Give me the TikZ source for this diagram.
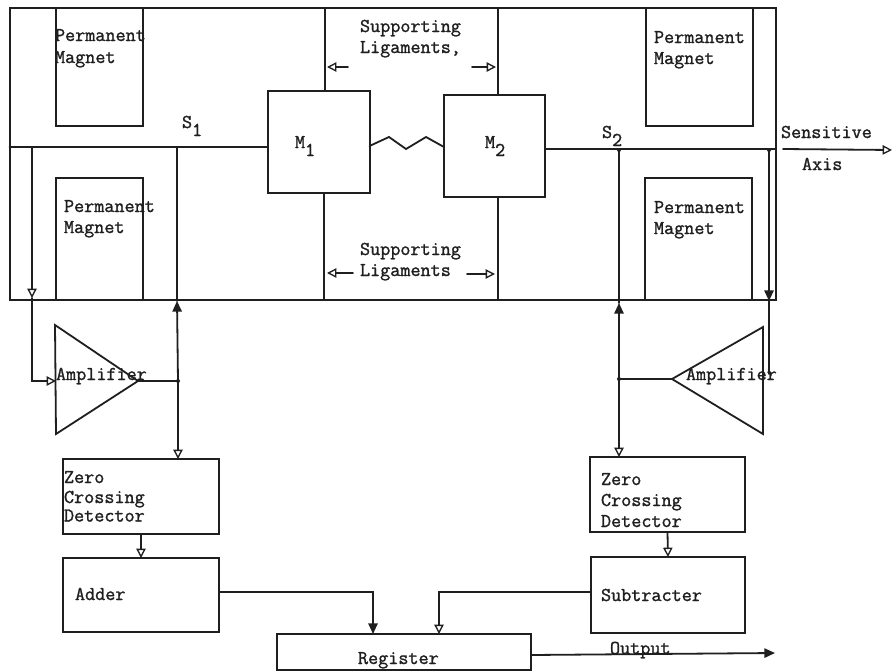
\documentclass[tikz,border=0pt]{standalone}
\usepackage{fontspec}
\setmonofont{Latin Modern Mono}[FakeBold=1.3]
\usetikzlibrary{arrows.meta}
\tikzset{
  wire/.style={line width=1.35pt,line cap=round,line join=miter,black!88},
  blk/.style={draw=black!88,line width=1.5pt,inner sep=0pt,outer sep=0pt,rectangle},
  lbl/.style={inner sep=0pt,outer sep=0pt,anchor=base west,font=\fontsize{14.7}{16}\selectfont\ttfamily,text=black!88},
  opn/.style={-{Triangle[open,length=7pt,width=7pt,line width=1pt]}},
  sld/.style={-{Triangle[length=8pt,width=7pt]}},
}
\newcommand{\blkbox}[5]{%
  \pgfmathsetmacro\blkw{(#4-#2)*0.75}\pgfmathsetmacro\blkh{(#5-#3)*0.75}%
  \node[blk,minimum width=\blkw pt,minimum height=\blkh pt] (#1) at ({(#2+#4)/2},{(#3+#5)/2}) {};}
\newcommand{\dropsub}[1]{\raisebox{-6pt}{#1}}
\begin{document}
\begin{tikzpicture}[x=0.75pt,y=-0.75pt]
\useasboundingbox (0,0) rectangle (892,671);
\fill[white] (0,0) rectangle (892,671);
% frame and blocks
\blkbox{frame}{9.5}{8}{776}{300}
\blkbox{pmtl}{56}{8}{143}{126}
\blkbox{pmbl}{56}{178}{143}{300}
\blkbox{pmtr}{646}{8}{753}{126}
\blkbox{pmbr}{645}{178}{752}{300}
\blkbox{ma}{268}{91}{369.5}{193}
\blkbox{mb}{444}{95}{545}{197}
\blkbox{zcl}{63}{459}{219}{534}
\blkbox{addb}{63}{558}{219}{632}
\blkbox{zcr}{590}{457}{745}{532}
\blkbox{subb}{591}{557}{745}{633}
\blkbox{reg}{277}{634}{531}{670}
% named points
\coordinate (fl) at (9.5,147);
\coordinate (ml) at (268,147);
\coordinate (mr) at (545,149);
\coordinate (fr) at (776,149);
\coordinate (jla) at (32,147);
\coordinate (jlb) at (177,147);
\coordinate (jra) at (619,150);
\coordinate (jrb) at (769,150);
\coordinate (la) at (32,298);
\coordinate (lb) at (32,381);
\coordinate (lin) at (56,381);
\coordinate (lout) at (138,381);
\coordinate (ljn) at (178,381);
\coordinate (lup) at (177,301);
\coordinate (rup) at (619,303);
\coordinate (rjn) at (619,379);
\coordinate (rout) at (672,379);
\coordinate (rdn) at (769,301);
\coordinate (rend) at (769,374);
% amplifiers
\coordinate (lat) at (55,325);
\coordinate (lab) at (56,434);
\coordinate (rat) at (763,327);
\coordinate (rab) at (763,434);
\draw[wire,line join=miter] (lat) -- (lout) -- (lab) -- cycle;
\draw[wire,line join=miter] (rat) -- (rout) -- (rab) -- cycle;
% main axis
\draw[wire] (fl) -- (ml);
\draw[wire] (mr) -- (fr);
\draw[wire] (ma.east |- 0,146) -- (389,137) -- (406,149) -- (426,137) -- (mb.west |- 0,147);
% ligaments
\draw[wire] (ma.north -| 325,0) -- (frame.north -| 325,0);
\draw[wire] (ma.south -| 324,0) -- (frame.south -| 324,0);
\draw[wire] (mb.north -| 498,0) -- (frame.north -| 498,0);
\draw[wire] (mb.south -| 498,0) -- (frame.south -| 498,0);
% left loop
\draw[wire,opn] (jla) -- (la);
\draw[wire,opn] (la) -- (lb) -- (lin);
\draw[wire,sld] (ljn) -- (lup);
\draw[wire] (lup) -- (jlb);
\draw[wire] (lout) -- (ljn);
\draw[wire,opn] (ljn) -- (zcl.north -| ljn);
\draw[wire,opn] (zcl.south) -- (addb.north);
\draw[wire,sld] (addb.east |- 0,592) -- (373,592) -- (reg.north -| 373,0);
% right loop
\draw[wire,sld] (rjn) -- (rup);
\draw[wire] (rup) -- (jra);
\draw[wire] (rout) -- (rjn);
\draw[wire,opn] (rjn) -- (zcr.north -| rjn);
\draw[wire,opn] (zcr.south) -- (subb.north);
\draw[wire,opn] (subb.west |- 0,592) -- (439,592) -- (reg.north -| 439,0);
\draw[wire,sld] (jrb) -- (rdn);
\draw[wire] (rdn) -- (rend);
% output and axis arrows
\coordinate (outend) at (775,653);
\draw[wire,sld] (reg.east |- 0,655) -- (outend);
\coordinate (axs) at (783,149);
\coordinate (axe) at (892,150);
\draw[wire,opn] (axs) -- (axe);
% ligament pointers
\coordinate (a1) at (348,67); \coordinate (a2) at (472,67);
\coordinate (a3) at (353,273); \coordinate (a4) at (467,274);
\draw[wire,opn] (a1) -- (327,67);
\draw[wire,opn] (a2) -- (496,67);
\draw[wire,opn] (a3) -- (327,273);
\draw[wire,opn] (a4) -- (495,274);
% junction dots
\foreach \p in {ljn,rjn,jra,jrb}{\fill[black!88] (\p) circle (1.5pt);}
% labels
\node[lbl] (t1) at (55,41) {Permanent};
\node[lbl] (t2) at (55,63) {Magnet};
\node[lbl] (t3) at (64,212) {Permanent};
\node[lbl] (t4) at (64,233) {Magnet};
\node[lbl] (t5) at (654,43) {Permanent};
\node[lbl] (t6) at (654,64) {Magnet};
\node[lbl] (t7) at (654,213) {Permanent};
\node[lbl] (t8) at (654,234) {Magnet};
\node[lbl] (t9) at (360,32) {Supporting};
\node[lbl] (t10) at (360,53) {Ligaments,};
\node[lbl] (t11) at (360,255) {Supporting};
\node[lbl] (t12) at (360,276) {Ligaments};
\node[lbl] (t13) at (182,128) {S\dropsub{1}};
\node[lbl] (t14) at (602,138) {S\dropsub{2}};
\node[lbl] (t16) at (295,148) {M\dropsub{1}};
\node[lbl] (t17) at (485,148) {M\dropsub{2}};
\node[lbl] (t18) at (781,138) {Sensitive};
\node[lbl] (t19) at (802,170) {Axis};
\node[lbl] (t20) at (56,380) {Amplifier};
\node[lbl] (t21) at (686,380) {Amplifier};
\node[lbl] (t22) at (64,483) {Zero};
\node[lbl] (t23) at (64,503) {Crossing};
\node[lbl] (t24) at (64,521.5) {Detector};
\node[lbl] (t25) at (601,485) {Zero};
\node[lbl] (t26) at (601,506) {Crossing};
\node[lbl] (t27) at (601,527) {Detector};
\node[lbl] (t28) at (75,600) {Adder};
\node[lbl] (t29) at (601,601) {Subtracter};
\node[lbl] (t30) at (358,664) {Register};
\node[lbl] (t31) at (610,654) {Output};
\end{tikzpicture}
\end{document}
